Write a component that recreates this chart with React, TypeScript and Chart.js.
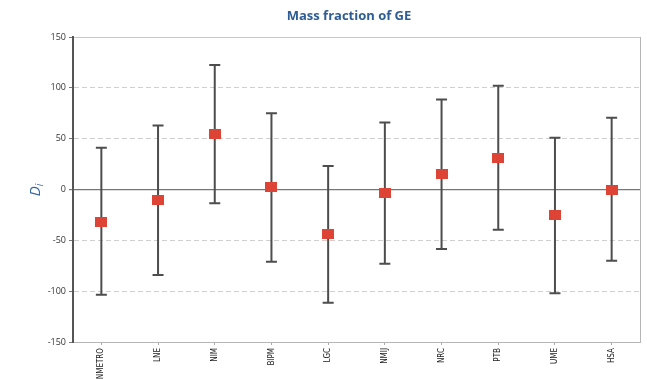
import React, { useEffect, useRef } from "react";
import { Chart, registerables } from "chart.js";

Chart.register(...registerables);

const labs = ["NMETRO", "LNE", "NIM", "BIPM", "LGC", "NMIJ", "NRC", "PTB", "UME", "HSA"];
const di = [-31.5, -10.5, 54.5, 2, -44, -3.5, 15, 31, -25.5, 0];
const lowV = [-103.5, -84, -13.5, -71, -111.5, -73, -58.5, -39.5, -102, -70];
const highV = [41, 63, 122.5, 75, 23, 66, 88.5, 102, 51, 70.5];
const yTicks = [-150, -100, -50, 0, 50, 100, 150];

const errorBars = {
  id: "errorBars",
  beforeDatasetsDraw(chart: any) {
    const { ctx, scales } = chart;
    const x = scales.x;
    const y = scales.y;
    ctx.save();
    ctx.strokeStyle = "#4d4d4d";
    ctx.lineWidth = 2;
    for (let i = 0; i < labs.length; i++) {
      const px = x.getPixelForValue(i);
      const pl = y.getPixelForValue(lowV[i]);
      const ph = y.getPixelForValue(highV[i]);
      ctx.beginPath();
      ctx.moveTo(px, pl);
      ctx.lineTo(px, ph);
      ctx.moveTo(px - 5.5, pl);
      ctx.lineTo(px + 5.5, pl);
      ctx.moveTo(px - 5.5, ph);
      ctx.lineTo(px + 5.5, ph);
      ctx.stroke();
    }
    ctx.restore();
  },
};

const decor = {
  id: "decor",
  afterDraw(chart: any) {
    const { ctx, chartArea } = chart;
    ctx.save();
    ctx.strokeStyle = "#b5b5b5";
    ctx.lineWidth = 1;
    ctx.beginPath();
    ctx.moveTo(chartArea.right + 0.5, chartArea.top);
    ctx.lineTo(chartArea.right + 0.5, chartArea.bottom);
    ctx.stroke();
    ctx.fillStyle = "#2e5c94";
    ctx.font = "bold 13px 'Open Sans', sans-serif";
    ctx.textAlign = "center";
    ctx.textBaseline = "middle";
    ctx.fillText("Mass fraction of GE", 349, 16);
    ctx.translate(35, 190);
    ctx.rotate(-Math.PI / 2);
    ctx.fillStyle = "#3566a8";
    ctx.font = "italic 15px 'Open Sans', sans-serif";
    ctx.textAlign = "left";
    ctx.textBaseline = "alphabetic";
    const wD = ctx.measureText("D").width;
    ctx.font = "italic 10px 'Open Sans', sans-serif";
    const wi = ctx.measureText("i").width;
    const start = -(wD + wi) / 2;
    ctx.font = "italic 15px 'Open Sans', sans-serif";
    ctx.fillText("D", start, 5);
    ctx.font = "italic 10px 'Open Sans', sans-serif";
    ctx.fillText("i", start + wD, 8);
    ctx.restore();
  },
};

function makeMarker() {
  const c = document.createElement("canvas");
  c.width = 12;
  c.height = 10;
  const g = c.getContext("2d")!;
  g.fillStyle = "#dd4436";
  g.fillRect(0, 0, 12, 10);
  return c;
}

export default function App() {
  const ref = useRef<HTMLCanvasElement>(null);
  useEffect(() => {
    const marker = makeMarker();
    const chart = new Chart(ref.current!, {
      type: "line",
      data: {
        labels: labs,
        datasets: [
          {
            data: di,
            showLine: false,
            pointStyle: marker as any,
            pointRadius: 6,
            pointHoverRadius: 6,
          },
        ],
      },
      options: {
        responsive: true,
        maintainAspectRatio: false,
        animation: false,
        events: [],
        layout: { padding: { top: 37, right: 6, left: 0, bottom: 0 } },
        plugins: { legend: { display: false }, title: { display: false }, tooltip: { enabled: false } },
        scales: {
          x: {
            type: "category",
            offset: true,
            grid: {
              drawOnChartArea: false,
              drawTicks: true,
              tickLength: 3,
              tickColor: "#aaaaaa",
              offset: false,
            },
            border: { display: true, color: "#b5b5b5", width: 1 },
            ticks: {
              autoSkip: false,
              maxRotation: 90,
              minRotation: 90,
              padding: 3,
              color: "#1a1a1a",
              font: { family: "'DejaVu Sans Condensed', 'Liberation Sans Narrow', sans-serif", size: 8 },
            },
            afterFit(s: any) {
              s.height = 38;
            },
          },
          y: {
            min: -150,
            max: 150,
            afterBuildTicks(s: any) {
              s.ticks = yTicks.map((v) => ({ value: v }));
            },
            grid: {
              drawTicks: true,
              tickLength: 4,
              tickColor: "#777",
              color: (c: any) => {
                const v = c.tick ? c.tick.value : 1;
                if (v === 0) return "#777777";
                if (v === 150 || v === -150) return "#c8c8c8";
                return "#cfcfcf";
              },
              lineWidth: (c: any) => (c.tick && c.tick.value === 0 ? 1.2 : 1),
            },
            border: {
              display: true,
              color: "#555",
              width: 2,
              dash: (c: any) => {
                const v = c.tick ? c.tick.value : 0;
                return v === 0 || v === 150 || v === -150 ? [] : [5, 3];
              },
            } as any,
            ticks: {
              color: "#333",
              padding: 3,
              font: { family: "'Open Sans', sans-serif", size: 9 },
            },
            afterFit(s: any) {
              s.width = 73;
            },
          },
        },
      },
      plugins: [errorBars, decor],
    });
    return () => chart.destroy();
  }, []);
  return (
    <div style={{ position: "absolute", left: 0, top: 0, width: 647, height: 380, background: "#fff" }}>
      <canvas ref={ref} />
    </div>
  );
}
